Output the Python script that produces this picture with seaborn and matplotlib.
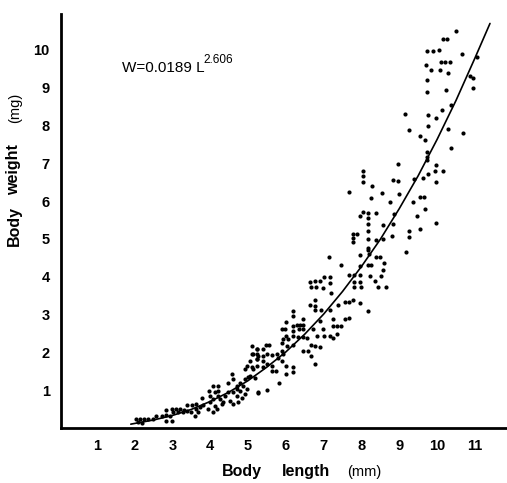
import matplotlib
matplotlib.use("Agg")
import matplotlib.pyplot as plt
import seaborn as sns
import pandas as pd

# Scatter points (body length mm, body weight mg)
body_length = [
    10.50, 10.15, 10.26, 9.74, 9.88, 10.04, 10.65, 11.05, 10.10, 10.22, 10.33, 9.70, 9.84, 10.08,
    10.28, 10.87, 10.94, 9.73, 10.94, 10.23, 9.73, 10.37, 10.14, 9.15, 9.75, 9.96, 9.75, 9.26,
    10.28, 10.68, 9.56, 9.68, 10.37, 9.73, 9.73, 9.73, 8.96, 9.96, 8.04, 8.04, 8.04, 9.95, 10.15,
    9.77, 9.64, 9.40, 8.83, 8.96, 9.96, 8.27, 7.66, 8.55, 8.99, 8.26, 9.56, 9.66, 8.76, 9.37,
    9.67, 8.04, 8.17, 7.97, 8.17, 8.38, 8.86, 9.46, 8.17, 8.58, 8.84, 9.98, 8.17, 9.26, 9.55,
    7.79, 7.88, 7.77, 7.77, 8.17, 8.39, 8.58, 8.80, 9.25, 8.18,
    9.17, 8.17, 8.19, 7.96, 8.39, 8.49, 7.15, 7.45, 8.17, 8.26, 8.60, 7.96, 8.56, 7.66, 7.80,
    7.96, 8.23, 8.52, 7.01, 7.17, 6.76, 6.90, 6.64, 6.66, 7.80, 7.96, 8.36, 7.17, 6.80, 7.80,
    7.98, 6.98, 8.45, 8.65, 7.20, 6.76, 7.79, 7.57, 7.68, 7.96, 6.64, 6.76, 7.39, 6.76, 6.92,
    7.17, 8.18, 6.18, 6.18, 7.26, 7.57, 7.68, 6.90, 6.45, 6.00, 5.90, 6.29, 6.38, 6.46, 6.18,
    6.18, 7.26, 7.36, 7.47, 6.73, 6.99, 5.99, 6.36, 6.46, 6.20, 6.33, 6.46, 6.57, 6.01, 6.82,
    7.01, 7.17, 7.26, 7.36, 5.93, 6.07, 5.25, 5.40, 5.56, 5.48, 5.89, 6.02, 6.18, 6.66, 6.77,
    6.90, 6.46, 6.60, 6.66, 6.77, 5.49, 5.63, 5.76, 5.89, 5.93, 5.10, 5.25, 5.39, 5.25, 5.39,
    5.80, 5.89, 5.49, 5.63, 5.12, 5.25, 5.40, 5.63, 5.74, 6.01, 6.01, 6.18, 6.18, 5.05, 5.19,
    5.83, 5.27, 5.49,
    2.05, 2.14, 2.25, 2.36, 2.48, 2.58, 2.72, 2.10, 2.19, 2.83, 2.83, 2.94, 2.83, 2.98, 2.98,
    3.10, 3.20, 3.31, 3.02, 3.16, 3.27, 3.38, 3.48, 3.38, 3.51, 3.62, 3.62, 3.60, 3.73, 3.82,
    3.78, 3.69, 4.00, 4.08, 4.00, 4.21, 4.13, 4.21, 4.08, 4.21, 3.98, 3.95, 4.08, 4.19, 4.13,
    4.30, 4.26, 4.35, 4.39, 4.48, 4.61, 4.70, 4.52, 4.61, 4.74, 4.83, 4.92, 4.48, 4.61, 4.70,
    4.79, 4.88, 4.97, 4.59, 4.70, 4.79, 4.92, 5.01, 4.92, 4.97, 5.10, 5.05, 5.12, 5.10, 5.23,
    5.23, 5.27, 5.27,
]
body_weight = [
    10.51, 10.28, 10.28, 9.97, 9.97, 10.00, 9.89, 9.80, 9.67, 9.67, 9.67, 9.59, 9.46, 9.46,
    9.39, 9.31, 9.26, 9.20, 8.99, 8.95, 8.90, 8.54, 8.41, 8.31, 8.28, 8.21, 8.00, 7.88,
    7.91, 7.79, 7.72, 7.63, 7.41, 7.31, 7.18, 7.08, 6.99, 6.95, 6.81, 6.66, 6.50, 6.80, 6.80,
    6.71, 6.61, 6.59, 6.57, 6.53, 6.51, 6.39, 6.23, 6.21, 6.19, 6.07, 6.10, 6.10, 5.99, 5.99,
    5.80, 5.72, 5.69, 5.61, 5.56, 5.68, 5.65, 5.60, 5.39, 5.38, 5.40, 5.41, 5.20, 5.21, 5.25,
    5.13, 5.13, 5.02, 4.92, 4.99, 4.97, 5.00, 5.07, 5.06, 4.77,
    4.66, 4.70, 4.59, 4.57, 4.53, 4.53, 4.53, 4.31, 4.31, 4.31, 4.37, 4.28, 4.17, 4.05, 4.05,
    4.05, 4.02, 4.02, 3.99, 3.99, 3.89, 3.89, 3.87, 3.73, 3.86, 3.86, 3.89, 3.84, 3.73, 3.74,
    3.73, 3.69, 3.73, 3.73, 3.58, 3.38, 3.39, 3.32, 3.32, 3.30, 3.25, 3.23, 3.25, 3.12, 3.12,
    3.12, 3.10, 3.10, 2.96, 2.88, 2.88, 2.90, 2.83, 2.89, 2.80, 2.63, 2.72, 2.72, 2.72, 2.70,
    2.57, 2.70, 2.70, 2.70, 2.63, 2.63, 2.61, 2.61, 2.61, 2.44, 2.41, 2.41, 2.39, 2.44, 2.42,
    2.42, 2.42, 2.37, 2.48, 2.35, 2.35, 2.08, 2.08, 2.19, 2.19, 2.24, 2.17, 2.19, 2.19, 2.17,
    2.13, 2.04, 2.04, 1.89, 1.69, 1.95, 1.93, 1.95, 2.04, 1.95, 1.95, 1.95, 1.91, 1.82, 1.78,
    1.84, 1.78, 1.69, 1.64, 1.56, 1.64, 1.60, 1.51, 1.51, 1.64, 1.42, 1.60, 1.49, 1.38, 1.31,
    1.20, 0.92, 1.01,
    0.24, 0.24, 0.24, 0.24, 0.24, 0.32, 0.32, 0.15, 0.13, 0.48, 0.34, 0.32, 0.19, 0.19, 0.50,
    0.50, 0.50, 0.48, 0.41, 0.41, 0.41, 0.46, 0.41, 0.61, 0.61, 0.50, 0.63, 0.32, 0.55, 0.61,
    0.78, 0.41, 0.68, 0.77, 0.84, 0.85, 0.94, 0.98, 1.12, 1.12, 0.98, 0.50, 0.43, 0.50, 0.59,
    0.63, 0.77, 0.69, 0.85, 0.94, 0.94, 0.85, 0.72, 0.63, 0.69, 0.78, 0.90, 1.20, 1.29, 1.12,
    1.20, 1.12, 1.03, 1.42, 1.03, 0.98, 1.29, 1.36, 1.56, 1.64, 1.60, 1.78, 1.95, 2.16, 2.08,
    1.82, 1.91, 0.94,
]

# Fitted curve W = 0.0189 L^2.606
curve_length = [1.9, 2.5, 3.0, 3.5, 4.0, 4.5, 5.0, 5.5, 6.0, 6.5, 7.0, 7.5, 8.0, 8.5, 9.0,
                 9.5, 10.0, 10.5, 11.0, 11.4]
curve_weight = [0.10, 0.21, 0.33, 0.49, 0.70, 0.95, 1.25, 1.61, 2.01, 2.48, 3.01, 3.61, 4.27,
                4.99, 5.80, 6.67, 7.63, 8.66, 9.78, 10.70]

x_ticks = [1, 2, 3, 4, 5, 6, 7, 8, 9, 10, 11]
y_ticks = [1, 2, 3, 4, 5, 6, 7, 8, 9, 10]

sns.set_theme(style="white")
plt.rcParams['font.family'] = ['Liberation Sans', 'DejaVu Sans']
plt.rcParams['text.color'] = 'black'
plt.rcParams['axes.labelcolor'] = 'black'
plt.rcParams['xtick.color'] = 'black'
plt.rcParams['ytick.color'] = 'black'

pts = pd.DataFrame({"L": body_length, "W": body_weight})
crv = pd.DataFrame({"L": curve_length, "W": curve_weight})

fig = plt.figure(figsize=(5.07, 4.83), dpi=100)
ax = fig.add_axes([0.120, 0.114, 0.880, 0.857])

sns.scatterplot(data=pts, x="L", y="W", ax=ax, color="black", s=9, linewidth=0, legend=False)
sns.lineplot(data=crv, x="L", y="W", ax=ax, color="black", linewidth=1.2, sort=True, estimator=None)

ax.set_xlim(0.05, 11.85)
ax.set_ylim(0.0, 10.95)
ax.set_xticks(x_ticks)
ax.set_yticks(y_ticks)
ax.set_xticklabels([str(t) for t in x_ticks], fontweight="bold", fontsize=10.5)
ax.set_yticklabels([str(t) for t in y_ticks], fontweight="bold", fontsize=10.5)
ax.tick_params(axis="both", direction="in", length=6, width=1.4, color="black", pad=8,
               labelcolor="black")
ax.set_xlabel("")
ax.set_ylabel("")

for side in ["top", "right"]:
    ax.spines[side].set_visible(False)
for side in ["left", "bottom"]:
    ax.spines[side].set_linewidth(2.0)
    ax.spines[side].set_color("black")

# small cap at top of y axis
ax.set_yticks([10.95], minor=True)
ax.tick_params(axis="y", which="minor", direction="in", length=8, width=1.6, color="black")

ax.text(1.67, 9.42, "W=0.0189 L", fontsize=11, color="black", va="baseline", ha="left")
ax.text(3.83, 9.66, "2.606", fontsize=8.5, color="black", va="baseline", ha="left")

# y-axis label words
fig.text(14 / 507, 1 - 226 / 483, "Body", rotation=90, ha="center", va="center",
         fontsize=11.5, fontweight="bold", color="black")
fig.text(14 / 507, 1 - 170 / 483, "weight", rotation=90, ha="center", va="center",
         fontsize=11.5, fontweight="bold", color="black")
fig.text(15 / 507, 1 - 108 / 483, "(mg)", rotation=90, ha="center", va="center",
         fontsize=10.5, color="black")
# x-axis label words
fig.text(242 / 507, 1 - 476 / 483, "Body", ha="center", va="baseline",
         fontsize=11.5, fontweight="bold", color="black")
fig.text(306 / 507, 1 - 476 / 483, "length", ha="center", va="baseline",
         fontsize=11.5, fontweight="bold", color="black")
fig.text(364 / 507, 1 - 476 / 483, "(mm)", ha="center", va="baseline",
         fontsize=10.5, color="black")

fig.savefig("out.png", dpi=100)
